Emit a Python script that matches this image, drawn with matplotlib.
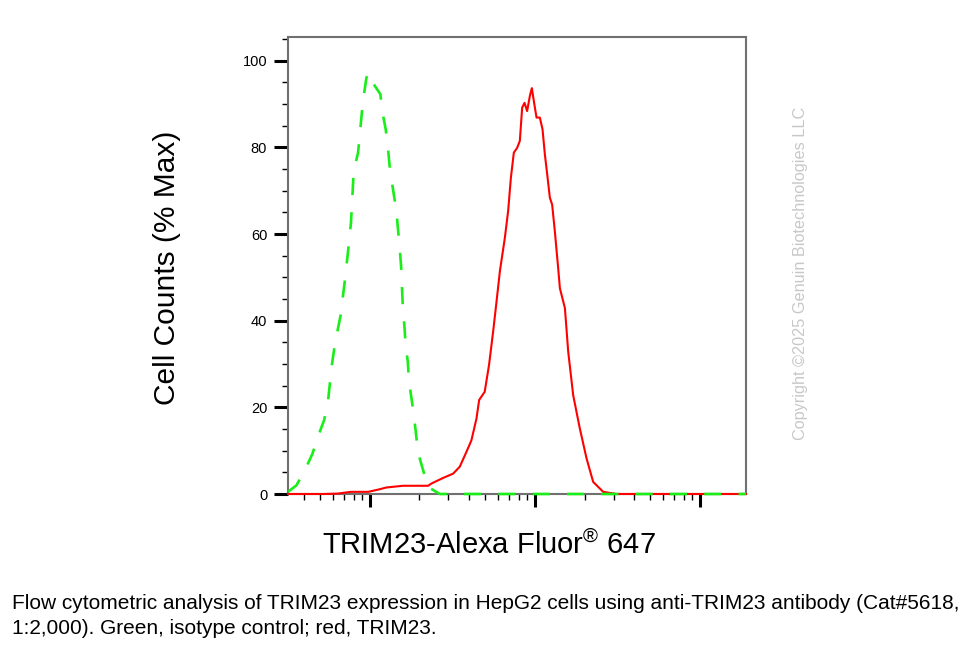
import matplotlib
matplotlib.use("Agg")
import matplotlib.pyplot as plt
import matplotlib.ticker as mticker
import numpy as np

plt.rcParams['font.family'] = ['Liberation Sans', 'DejaVu Sans']
plt.rcParams['mathtext.fontset'] = 'custom'
plt.rcParams['mathtext.rm'] = 'Liberation Sans'

# isotype control (green, dashed): fluorescence intensity vs % max
iso_x = [32, 36, 41, 45, 49, 53, 56, 59, 61, 64, 67, 69, 71, 73, 75, 77, 80, 85, 91,
         95.5, 99, 104, 116, 119, 125, 129, 132, 136, 142, 146, 150, 153, 156, 157,
         159, 162, 165, 170, 173, 179, 185, 190, 196, 209, 226, 266, 500, 1000, 5000, 19000]
iso_y = [0.5, 2.0, 5.9, 9.3, 13.6, 17.1, 21.7, 29.8, 33.6, 37.9, 41.7, 46.0, 49.8, 54.1,
         58.3, 62.6, 74.5, 78.8, 90.7, 96.1, 97.3, 95.0, 92.3, 88.4, 84.2, 79.9, 75.7,
         72.2, 67.6, 64.1, 59.1, 55.3, 51.0, 47.2, 42.5, 39.1, 34.4, 30.6, 25.9, 22.1,
         18.2, 14.4, 9.7, 5.9, 1.6, 0, 0, 0, 0, 0]

# TRIM23 (red, solid)
trim_x = [32, 53, 64, 77, 98, 115, 126, 159, 226, 236, 278, 320, 351, 385, 413, 443,
          460, 497, 528, 559, 586, 614, 658, 689, 716, 746, 781, 811, 838, 866, 898,
          933, 959, 986, 1024, 1072, 1113, 1150, 1188, 1233, 1273, 1322, 1384, 1418,
          1521, 1592, 1707, 1873, 2057, 2255, 2592, 3126, 19000]
trim_y = [0, 0, 0.1, 0.5, 0.5, 1.1, 1.5, 1.9, 1.9, 2.4, 3.7, 4.7, 6.3, 9.7, 12.4, 17.4,
          21.7, 23.6, 29.8, 37.5, 44.4, 51.4, 59.1, 65.3, 73.0, 78.8, 79.9, 81.5, 89.2,
          90.3, 88.4, 91.9, 93.7, 90.7, 86.9, 86.9, 84.2, 78.4, 73.8, 68.4, 66.8, 60.6,
          52.2, 47.5, 42.9, 32.9, 22.8, 15.1, 8.2, 2.8, 0.5, 0, 0]

y_ticks = [0, 20, 40, 60, 80, 100]

fig = plt.figure(figsize=(9.8, 6.45), dpi=100)
ax = fig.add_axes([288/980, 1-494/645, (746-288)/980, (494-37)/645])

ax.plot(trim_x, trim_y, color='#ff0000', lw=1.5, clip_on=False, zorder=3)
ax.plot(iso_x, iso_y, color='#19ee19', lw=1.9, linestyle=(0, (6.5, 6.5)),
        clip_on=False, zorder=4)

ax.set_xscale('log')
ax.set_xlim(32, 19000)
ax.set_ylim(0, 105.5)

ax.xaxis.set_major_locator(mticker.LogLocator(base=10))
ax.xaxis.set_minor_locator(mticker.LogLocator(base=10, subs=np.arange(2, 10)))
ax.xaxis.set_major_formatter(mticker.NullFormatter())
ax.xaxis.set_minor_formatter(mticker.NullFormatter())

ax.set_yticks(y_ticks)
ax.set_yticklabels([str(t) for t in y_ticks])
ax.yaxis.set_minor_locator(mticker.MultipleLocator(5))

ax.tick_params(axis='both', which='major', direction='out', length=10, width=2.2,
               color='black', labelsize=10.5, pad=5)
ax.tick_params(axis='both', which='minor', direction='out', length=4.5, width=1,
               color='black')
ax.tick_params(axis='x', which='major', length=9)

for s in ax.spines.values():
    s.set_color('#707070')
    s.set_linewidth(1.5)

fig.text(167/980, 1-268/645, 'Cell Counts (% Max)', rotation=90, fontsize=21.5,
         ha='center', va='center')
fig.text(489/980, 1-554/645, r'TRIM23-Alexa Fluor$^{\circledR}$ 647', fontsize=21,
         ha='center', va='baseline')
fig.text(800/980, 1-273/645, 'Copyright \u00a92025 Genuin Biotechnologies LLC',
         rotation=90, fontsize=11.7, color='#c8c8c8', ha='center', va='center')
fig.text(12/980, 1-609/645, 'Flow cytometric analysis of TRIM23 expression in HepG2 cells '
         'using anti-TRIM23 antibody (Cat#5618,', fontsize=15, ha='left', va='baseline')
fig.text(12/980, 1-634/645, '1:2,000). Green, isotype control; red, TRIM23.',
         fontsize=15, ha='left', va='baseline')

fig.savefig('out.png', dpi=100)
